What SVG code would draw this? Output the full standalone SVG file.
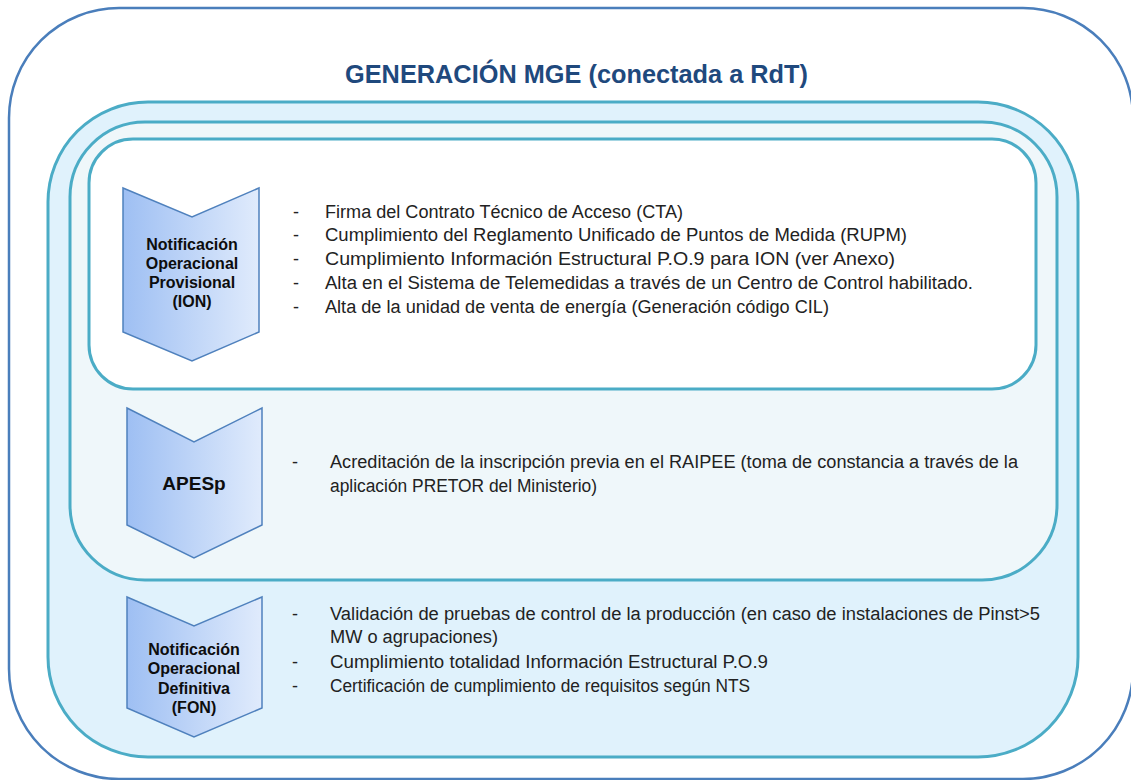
<svg xmlns="http://www.w3.org/2000/svg" width="1131" height="780" viewBox="0 0 1131 780">
<style>
.frame{fill:#ffffff;stroke:#4a7ebb;stroke-width:2.5}
.box{stroke:#4bacc6;stroke-width:3}
.chev{fill:url(#chevGrad);stroke:#4f81bd;stroke-width:1.5}
.title{font-family:"Liberation Sans",Arial,sans-serif;font-weight:bold;font-size:25px;fill:#1f497d}
.lab{font-family:"Liberation Sans",Arial,sans-serif;font-weight:bold;font-size:16px;fill:#0d0d0d;text-anchor:middle}
.big{font-size:19px}
.t{font-family:"Liberation Sans",Arial,sans-serif;font-size:18px;fill:#222222}
</style>
<defs>
<linearGradient id="chevGrad" x1="0" y1="0" x2="1" y2="0">
<stop offset="0" stop-color="#9ebff3"/>
<stop offset="1" stop-color="#e0ebfc"/>
</linearGradient>
</defs>
<g id="frame">
<rect class="frame" x="9" y="8" width="1124" height="771" rx="110" ry="110"/>
<text class="title" x="345" y="83" textLength="463" lengthAdjust="spacingAndGlyphs">GENERACIÓN MGE (conectada a RdT)</text>
</g>
<g id="boxes">
<rect class="box" x="48" y="102" width="1030" height="655" rx="100" ry="100" fill="#e0f2fc"/>
<rect class="box" x="70" y="122" width="987" height="458" rx="75" ry="75" fill="#eff7fa"/>
<rect class="box" x="89" y="139" width="947" height="250" rx="44" ry="44" fill="#ffffff"/>
</g>
<g id="connectors"></g>
<g id="node-ion">
<polygon class="chev" points="123,188 192,217 259,188 259,332 192,361 123,332"/>
<text class="lab" x="192" y="250">Notificación</text>
<text class="lab" x="192" y="269">Operacional</text>
<text class="lab" x="192" y="288">Provisional</text>
<text class="lab" x="192" y="307">(ION)</text>
<text class="t" x="293" y="218">-</text>
<text class="t" x="325" y="218" textLength="358" lengthAdjust="spacingAndGlyphs">Firma del Contrato Técnico de Acceso (CTA)</text>
<text class="t" x="293" y="241">-</text>
<text class="t" x="325" y="241" textLength="582" lengthAdjust="spacingAndGlyphs">Cumplimiento del Reglamento Unificado de Puntos de Medida (RUPM)</text>
<text class="t" x="293" y="265">-</text>
<text class="t" x="325" y="265" textLength="570" lengthAdjust="spacingAndGlyphs">Cumplimiento Información Estructural P.O.9 para ION (ver Anexo)</text>
<text class="t" x="293" y="289">-</text>
<text class="t" x="325" y="289" textLength="648" lengthAdjust="spacingAndGlyphs">Alta en el Sistema de Telemedidas a través de un Centro de Control habilitado.</text>
<text class="t" x="293" y="313">-</text>
<text class="t" x="325" y="313" textLength="504" lengthAdjust="spacingAndGlyphs">Alta de la unidad de venta de energía (Generación código CIL)</text>
</g>
<g id="node-apesp">
<polygon class="chev" points="127,408 194,442 262,408 262,525 194,558 127,525"/>
<text class="lab big" x="194" y="490">APESp</text>
<text class="t" x="292" y="468">-</text>
<text class="t" x="330" y="468" textLength="688" lengthAdjust="spacingAndGlyphs">Acreditación de la inscripción previa en el RAIPEE (toma de constancia a través de la</text>
<text class="t" x="330" y="492" textLength="267" lengthAdjust="spacingAndGlyphs">aplicación PRETOR del Ministerio)</text>
</g>
<g id="node-fon">
<polygon class="chev" points="127,597 194,626 262,597 262,708 194,737 127,708"/>
<text class="lab" x="194" y="655">Notificación</text>
<text class="lab" x="194" y="674">Operacional</text>
<text class="lab" x="194" y="694">Definitiva</text>
<text class="lab" x="194" y="713">(FON)</text>
<text class="t" x="292" y="620">-</text>
<text class="t" x="330" y="620" textLength="710" lengthAdjust="spacingAndGlyphs">Validación de pruebas de control de la producción (en caso de instalaciones de Pinst&gt;5</text>
<text class="t" x="330" y="643" textLength="168" lengthAdjust="spacingAndGlyphs">MW o agrupaciones)</text>
<text class="t" x="292" y="668">-</text>
<text class="t" x="330" y="668" textLength="438" lengthAdjust="spacingAndGlyphs">Cumplimiento totalidad Información Estructural P.O.9</text>
<text class="t" x="292" y="692">-</text>
<text class="t" x="330" y="692" textLength="420" lengthAdjust="spacingAndGlyphs">Certificación de cumplimiento de requisitos según NTS</text>
</g>
</svg>
